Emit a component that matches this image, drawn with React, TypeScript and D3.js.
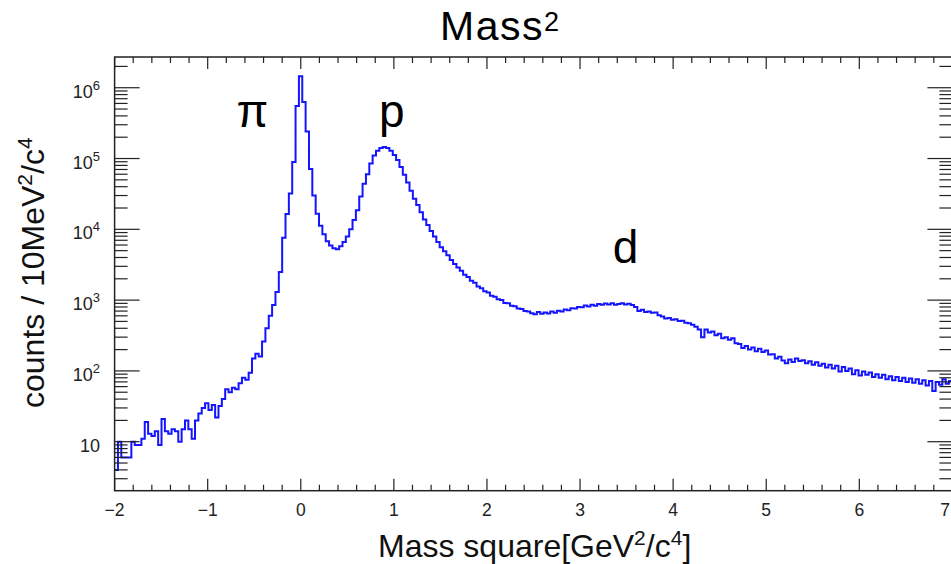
import React from "react";
import * as d3 from "d3";

// Histogram of mass squared, 250 bins from -2 to 7 GeV^2/c^4
const X_MIN = -2;
const X_MAX = 7;

const countsA = [4, 10, 6, 6, 6, 10, 9, 9, 11, 19, 13, 12, 14, 9, 21, 14, 13, 15, 14, 10, 15, 20, 15, 11, 20];
const countsB = [25, 30, 35, 28, 33, 22, 32, 40, 55, 50, 58, 55, 67, 80, 75, 94, 150, 175, 160, 260, 400, 600, 850, 1300, 2500];
const countsC = [7600, 16500, 32000, 89000, 550000, 1450000, 630000, 240000, 71000, 30000, 16600, 11200, 8500, 6800, 5900, 5400, 5250, 5750, 6600, 7900, 10000, 13500, 18600, 29000, 44000];
const countsD = [60000, 85000, 110000, 129000, 141000, 145000, 141000, 129000, 112000, 95000, 76000, 59000, 46000, 35000, 27000, 22000, 17400, 13800, 11500, 9500, 7900, 6600, 5600, 4900, 4300];
const countsE = [3700, 3250, 2880, 2600, 2280, 2120, 1880, 1760, 1560, 1470, 1330, 1280, 1150, 1120, 1030, 1000, 910, 900, 830, 820, 760, 750, 700, 690, 650];
const countsF = [630, 680, 640, 670, 645, 690, 665, 705, 690, 735, 720, 770, 760, 800, 790, 840, 815, 860, 835, 880, 860, 895, 870, 900, 860];
const countsG = [880, 905, 870, 885, 850, 800, 700, 730, 680, 690, 665, 670, 610, 585, 550, 560, 530, 535, 505, 510, 480, 470, 450, 420, 385];
const countsH = [300, 385, 350, 360, 320, 335, 290, 300, 275, 290, 245, 240, 210, 225, 200, 215, 190, 205, 185, 195, 170, 172, 150, 158, 140];
const countsI = [128, 145, 134, 150, 138, 142, 128, 137, 122, 133, 118, 126, 112, 122, 108, 118, 98, 114, 100, 108, 90, 102, 86, 98, 88];
const countsJ = [95, 82, 90, 80, 88, 76, 84, 74, 82, 72, 80, 70, 78, 68, 76, 66, 74, 62, 72, 52, 70, 64, 76, 66, 72];

const counts = [
  ...countsA, ...countsB, ...countsC, ...countsD, ...countsE,
  ...countsF, ...countsG, ...countsH, ...countsI, ...countsJ,
];

const xTickValues = [-2, -1, 0, 1, 2, 3, 4, 5, 6, 7];
const yDecadeExponents = [1, 2, 3, 4, 5, 6];

const particleLabels = [
  { text: "π", x: -0.69, y: 2.8e5 },
  { text: "p", x: 0.84, y: 2.8e5 },
  { text: "d", x: 3.35, y: 3300 },
];

const W = 951;
const H = 564;
const FONT = "'Liberation Sans', Arial, Helvetica, sans-serif";

export default function App() {
  const left = 114.6;
  const right = 952.4;
  const top = 57;
  const bottom = 490.7;

  const x = d3.scaleLinear().domain([X_MIN, X_MAX]).range([left, right]);
  const y = d3
    .scaleLog()
    .domain([Math.pow(10, 0.308), Math.pow(10, 6.434)])
    .range([bottom, top]);

  const bw = (X_MAX - X_MIN) / counts.length;
  const pts: [number, number][] = [];
  counts.forEach((c, i) => {
    const lo = X_MIN + i * bw;
    const hi = lo + bw;
    pts.push([x(lo), y(c)], [x(hi), y(c)]);
  });
  const pathD = d3.line()(pts) || "";

  const xMinor = d3.range(X_MIN, X_MAX + 1e-9, 0.2).filter((v) => Math.abs(v - Math.round(v)) > 1e-6);
  const [yLo, yHi] = y.domain();
  const yMinor: number[] = [];
  for (let e = 0; e <= 6; e++) {
    for (let m = 2; m <= 9; m++) {
      const v = m * Math.pow(10, e);
      if (v >= yLo && v <= yHi) yMinor.push(v);
    }
  }

  const axisColor = "#222";
  const majX = 12;
  const minX = 6;
  const majY = 25;
  const minY = 13;

  return (
    <svg width={W} height={H} style={{ position: "absolute", left: 0, top: 0, background: "#fff" }} fontFamily={FONT}>
      <defs>
        <clipPath id="plotclip">
          <rect x={left} y={top} width={right - left} height={bottom - top} />
        </clipPath>
      </defs>
      <rect x={0} y={0} width={W} height={H} fill="#fff" />

      {/* histogram */}
      <path d={pathD} fill="none" stroke="#1414ff" strokeWidth={2} clipPath="url(#plotclip)" />

      {/* frame */}
      <rect x={left} y={top} width={right - left} height={bottom - top} fill="none" stroke={axisColor} strokeWidth={1.5} />

      {/* x ticks */}
      {xTickValues.map((v, i) => {
        const last = i === xTickValues.length - 1;
        return (
          <g key={"xt" + v}>
            <line x1={x(v)} x2={x(v)} y1={bottom} y2={bottom - majX} stroke={axisColor} strokeWidth={1.2} />
            <line x1={x(v)} x2={x(v)} y1={top} y2={top + majX} stroke={axisColor} strokeWidth={1.2} />
            <text
              x={last ? W - 1 : x(v)}
              y={516}
              textAnchor={last ? "end" : "middle"}
              fontSize={17.5}
              fill="#222"
            >
              {v < 0 ? "\u2212" + Math.abs(v) : String(v)}
            </text>
          </g>
        );
      })}
      {xMinor.map((v, i) => (
        <g key={"xm" + i}>
          <line x1={x(v)} x2={x(v)} y1={bottom} y2={bottom - minX} stroke={axisColor} strokeWidth={1.2} />
          <line x1={x(v)} x2={x(v)} y1={top} y2={top + minX} stroke={axisColor} strokeWidth={1.2} />
        </g>
      ))}

      {/* y ticks */}
      {yDecadeExponents.map((e) => {
        const v = Math.pow(10, e);
        return (
          <g key={"yt" + e}>
            <line x1={left} x2={left + majY} y1={y(v)} y2={y(v)} stroke={axisColor} strokeWidth={1.2} />
            <line x1={right} x2={right - majY} y1={y(v)} y2={y(v)} stroke={axisColor} strokeWidth={1.2} />
            <text x={100} y={y(v) + 10} textAnchor="end" fontSize={18} fill="#222">
              10
              {e > 1 ? (
                <tspan fontSize={13} dy={-8}>
                  {e}
                </tspan>
              ) : null}
            </text>
          </g>
        );
      })}
      {yMinor.map((v, i) => (
        <g key={"ym" + i}>
          <line x1={left} x2={left + minY} y1={y(v)} y2={y(v)} stroke={axisColor} strokeWidth={1.2} />
          <line x1={right} x2={right - minY} y1={y(v)} y2={y(v)} stroke={axisColor} strokeWidth={1.2} />
        </g>
      ))}

      {/* particle labels */}
      {particleLabels.map((l) => (
        <text key={l.text} x={x(l.x)} y={y(l.y)} fontSize={46} fill="#000">
          {l.text}
        </text>
      ))}

      {/* title */}
      <text x={440} y={40} fontSize={41} fill="#000" letterSpacing={1.5}>
        Mass
        <tspan fontSize={27} dy={-9}>2</tspan>
      </text>

      {/* x title */}
      <text x={378} y={556.5} fontSize={32} fill="#111">
        Mass square[GeV
        <tspan fontSize={21} dy={-12}>2</tspan>
        <tspan dy={12}>/c</tspan>
        <tspan fontSize={21} dy={-12}>4</tspan>
        <tspan dy={12}>]</tspan>
      </text>

      {/* y title */}
      <text transform="translate(43.5,408) rotate(-90)" x={0} y={0} fontSize={32} fill="#111">
        counts / 10MeV
        <tspan fontSize={21} dy={-12}>2</tspan>
        <tspan dy={12}>/c</tspan>
        <tspan fontSize={21} dy={-12}>4</tspan>
      </text>
    </svg>
  );
}
